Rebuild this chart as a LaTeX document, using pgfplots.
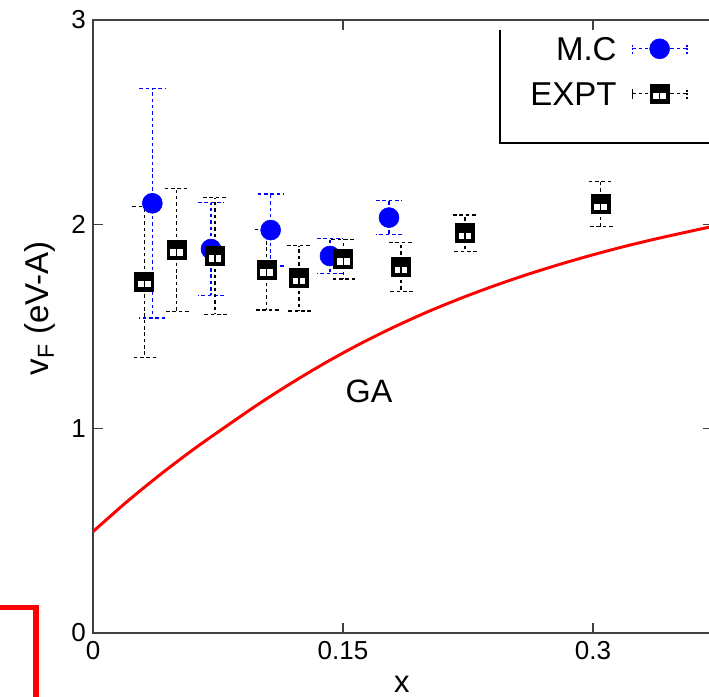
\documentclass[border=0pt]{standalone}
\usepackage{fontspec}
\setmainfont{Liberation Sans}
\usepackage{pgfplots}
\pgfplotsset{compat=1.18}
\usepackage{pgfplotstable}

\pgfdeclareplotmark{gsq}{%
  \pgfsetfillcolor{black}%
  \pgfpathrectangle{\pgfpoint{-7.1pt}{-7.1pt}}{\pgfpoint{14.2pt}{14.2pt}}\pgfusepath{fill}%
  \pgfsetfillcolor{white}%
  \pgfpathrectangle{\pgfpoint{-4.5pt}{-4pt}}{\pgfpoint{9pt}{4.5pt}}\pgfusepath{fill}%
  \pgfsetfillcolor{black}%
  \pgfpathrectangle{\pgfpoint{-0.4pt}{-4pt}}{\pgfpoint{0.8pt}{4.5pt}}\pgfusepath{fill}%
}

\pgfplotstableread{
x      y      e
0.0356 2.103  0.561
0.0708 1.879  0.227
0.1066 1.972  0.176
0.1422 1.845  0.085
0.1776 2.033  0.082
}\mcdata

\pgfplotstableread{
x      y      e
0.0308 1.719  0.370
0.0502 1.874  0.300
0.0732 1.845  0.285
0.1042 1.777  0.196
0.1236 1.736  0.160
0.1502 1.830  0.097
0.1848 1.790  0.120
0.2232 1.956  0.090
0.3046 2.098  0.110
}\exptdata

\pgfplotstableread{
x      y
0.000  0.496
0.020  0.640
0.040  0.773
0.060  0.897
0.080  1.012
0.100  1.124
0.120  1.228
0.140  1.325
0.160  1.414
0.180  1.495
0.200  1.569
0.220  1.636
0.240  1.697
0.260  1.753
0.280  1.804
0.300  1.851
0.320  1.894
0.340  1.933
0.360  1.969
0.372  1.990
}\gadata

\begin{document}
\begin{tikzpicture}
\begin{axis}[
  at={(2.325cm,1.575cm)}, anchor=south west,
  scale only axis, width=15.5cm, height=15.325cm,
  xmin=0, xmax=0.372, ymin=0, ymax=3,
  xtick={0,0.15,0.3}, ytick={0,1,2,3},
  xticklabels={0,0.15,0.3},
  yticklabels={0,1,2,3},
  tick align=inside, tick pos=both,
  major tick length=7pt,
  axis line style={black!75, line width=0.8pt},
  every tick/.style={black!75, line width=0.8pt},
  tick label style={font=\fontsize{18.5}{22}\selectfont, black},
  xticklabel style={yshift=-2.3pt},
  yticklabel style={xshift=-1.5pt},
  xlabel={x},
  ylabel={v\textsubscript{F} (eV-A)},
  xlabel style={font=\fontsize{22}{26}\selectfont, at={(axis description cs:0.498,-0.083)}, anchor=center},
  ylabel style={font=\fontsize{23.5}{28}\selectfont, at={(axis description cs:-0.0855,0.53)}, anchor=center},
  legend style={draw=none, fill=none, at={(axis description cs:1,1)}, anchor=north east,
    xshift=-17.8pt, yshift=-8.8pt,
    font=\fontsize{23.5}{28}\selectfont, inner sep=0pt, row sep=9pt, column sep=10.7pt,
    nodes={inner xsep=0pt, inner ysep=3pt, text height=17pt, text depth=0pt}},
  legend cell align=right, legend plot pos=right,
]
\draw[black, line width=0.8pt] (rel axis cs:0.6565,0.984) -- (rel axis cs:0.6565,0.7993) -- (rel axis cs:1,0.7993);

\addplot[red, line width=2.1pt, smooth, forget plot] table[x=x,y=y] {\gadata};

\addplot[blue, only marks, mark=*, mark size=7.1pt, mark options={draw=none, fill=blue},
  error bars/.cd, y dir=both, y explicit,
  error bar style={blue, line width=0.9pt, dash pattern=on 2.5pt off 2pt},
  error mark options={rotate=90, mark size=9.2pt, blue, line width=0.9pt, dash pattern=on 2.5pt off 2pt},
  /pgfplots/legend image code/.code={
    \draw[blue, line width=0.9pt, dash pattern=on 2.5pt off 2pt] (0pt,0pt) -- (39pt,0pt);
    \draw[blue, line width=0.9pt, dash pattern=on 1.5pt off 1pt] (0pt,-3.6pt) -- (0pt,3.6pt) (39pt,-3.6pt) -- (39pt,3.6pt);
    \fill[blue] (19.5pt,0pt) circle (7.1pt);
  }
] table[x=x,y=y,y error=e] {\mcdata};
\addlegendentry{M.C}

\addplot[black, only marks, mark=gsq,
  error bars/.cd, y dir=both, y explicit,
  error bar style={black, line width=0.9pt, dash pattern=on 2.5pt off 2pt},
  error mark options={rotate=90, mark size=8.5pt, black, line width=0.9pt, dash pattern=on 2.5pt off 2pt},
  /pgfplots/legend image code/.code={
    \draw[black, line width=0.9pt, dash pattern=on 2.5pt off 2pt] (0pt,0pt) -- (39pt,0pt);
    \draw[black, line width=0.9pt] (0pt,-3.6pt) -- (0pt,3.6pt);
    \draw[black, line width=0.9pt, dash pattern=on 1.5pt off 1pt] (39pt,-3.6pt) -- (39pt,3.6pt);
    \begin{scope}[shift={(19.5pt,0pt)}]\pgfuseplotmark{gsq}\end{scope}
  }
] table[x=x,y=y,y error=e] {\exptdata};
\addlegendentry{EXPT}

\node[font=\fontsize{23}{27}\selectfont] at (axis cs:0.1656,1.182) {GA};
\end{axis}
\draw[red, line width=3.6pt] (-1cm,2.2125cm) -- (0.9cm,2.2125cm) -- (0.9cm,-1cm);
\pgfresetboundingbox
\path[use as bounding box] (0,0) rectangle (17.725cm,17.4cm);
\end{tikzpicture}
\end{document}
